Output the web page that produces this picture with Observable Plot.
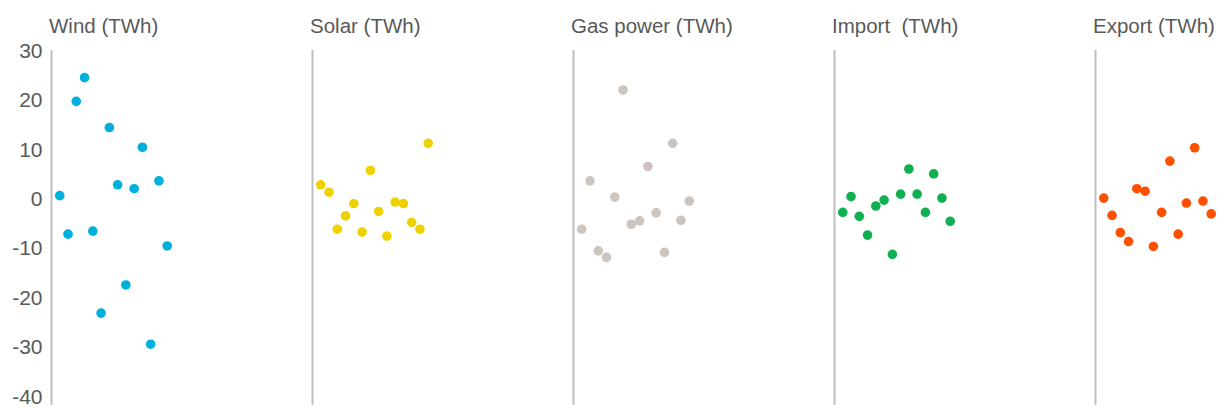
<!DOCTYPE html>
<html>
<head>
<meta charset="utf-8">
<script src="https://cdn.jsdelivr.net/npm/d3@7"></script>
<script src="https://cdn.jsdelivr.net/npm/@observablehq/plot@0.6"></script>
<style>
  html, body { margin: 0; padding: 0; background: #fff; }
  svg text { white-space: pre; }
</style>
</head>
<body>
<div id="chart"></div>
<script>
const panels = ["Wind", "Solar", "Gas power", "Import", "Export"];
const titles = ["Wind (TWh)", "Solar (TWh)", "Gas power (TWh)", "Import  (TWh)", "Export (TWh)"];
const colors = ["#00b0dc", "#eed200", "#cbc4bf", "#10b050", "#ff5000"];
const yTicks = [30, 20, 10, 0, -10, -20, -30, -40];

const wind   = [1.0, -6.8, 20.1, 24.9, -6.2, -22.8, 14.8, 3.2, -17.1, 2.4, 10.8, -29.1, 4.0, -9.2];
const solar  = [3.2, 1.7, -5.8, -3.1, -0.6, -6.4, 6.1, -2.2, -7.2, -0.3, -0.6, -4.4, -5.8, 11.6];
const gas    = [-5.8, 4.0, -10.2, -11.5, 0.7, 22.4, -4.8, -4.1, 6.9, -2.5, -10.5, 11.6, -4.0, -0.1];
const imp    = [-2.4, 0.8, -3.2, -7.0, -1.1, 0.1, -10.9, 1.3, 6.4, 1.3, -2.4, 5.4, 0.5, -4.2];
const exp    = [0.5, -3.0, -6.5, -8.3, 2.4, 1.9, -9.3, -2.4, 8.0, -6.8, -0.5, 10.7, -0.1, -2.7];

const series = [wind, solar, gas, imp, exp];
const rows = [];
series.forEach((vals, p) => vals.forEach((v, i) => rows.push({panel: panels[p], obs: i + 1, value: v})));
const titleRows = panels.map((p, i) => ({panel: p, title: titles[i]}));

const font = "'Liberation Sans', Arial, sans-serif";

const chart = Plot.plot({
  width: 1223,
  height: 408,
  marginTop: 50,
  marginBottom: 3,
  marginLeft: 51,
  marginRight: 0,
  style: {fontFamily: font, fontSize: "20px", color: "#595959", background: "#fff"},
  fx: {domain: panels, range: [51.2, 1228.4], paddingInner: 0.5, paddingOuter: 0, align: 0, axis: null},
  x: {domain: [0, 15.85], axis: null},
  y: {domain: [-40, 30], range: [397.5, 52]},
  color: {domain: panels, range: colors},
  marks: [
    Plot.ruleX([0], {stroke: "#bfbfbf", strokeWidth: 2}),
    Plot.axisY({ticks: yTicks, tickSize: 0, tickPadding: 9, tickFormat: d => String(d), fontSize: 21, dy: -1.2, fill: "#595959", label: null}),
    Plot.text(titleRows, {fx: "panel", text: "title", frameAnchor: "top-left", textAnchor: "start", lineAnchor: "middle", dy: -24, dx: -2.5, fontSize: 20.5, fill: "#595959"}),
    Plot.dot(rows, {fx: "panel", x: "obs", y: "value", r: 4.8, fill: "panel", stroke: "none"})
  ]
});
document.getElementById("chart").appendChild(chart);
</script>
</body>
</html>
